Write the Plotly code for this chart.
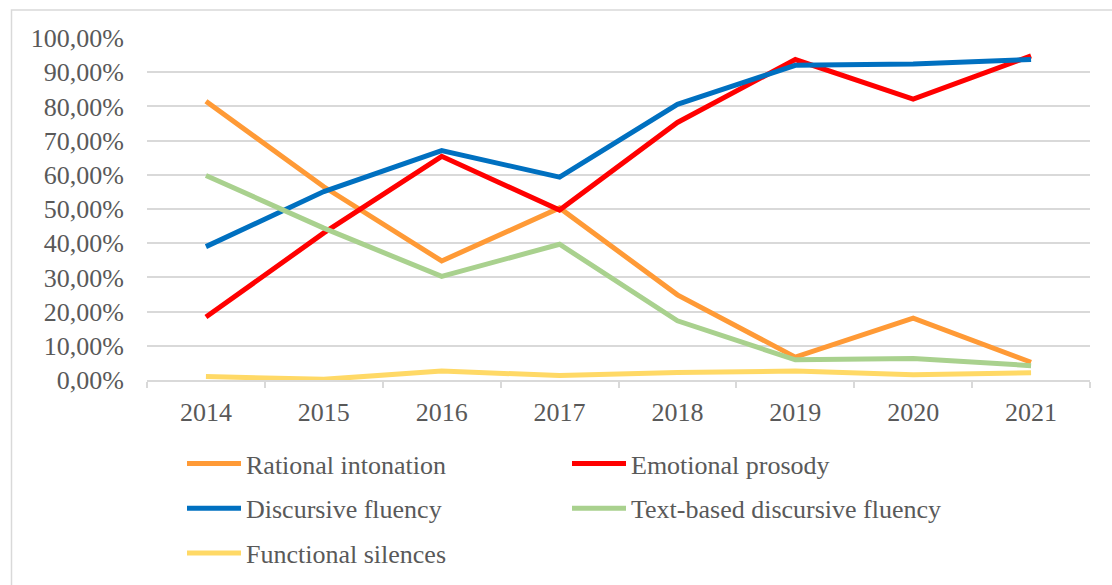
import plotly.graph_objects as go

years = ["2014", "2015", "2016", "2017", "2018", "2019", "2020", "2021"]

rational_intonation = [0.815, 0.565, 0.348, 0.503, 0.249, 0.067, 0.181, 0.052]
emotional_prosody = [0.184, 0.430, 0.654, 0.497, 0.753, 0.937, 0.821, 0.948]
discursive_fluency = [0.390, 0.551, 0.671, 0.593, 0.806, 0.920, 0.924, 0.937]
text_based_fluency = [0.598, 0.444, 0.303, 0.397, 0.173, 0.059, 0.063, 0.042]
functional_silences = [0.010, 0.002, 0.026, 0.013, 0.022, 0.026, 0.015, 0.021]

series = [
    ("Rational intonation", rational_intonation, "#FF9A36", "legend"),
    ("Emotional prosody", emotional_prosody, "#FF0000", "legend2"),
    ("Discursive fluency", discursive_fluency, "#0070C0", "legend"),
    ("Text-based discursive fluency", text_based_fluency, "#A9D18E", "legend2"),
    ("Functional silences", functional_silences, "#FFD966", "legend"),
]

FONT = "Liberation Serif, Times New Roman, serif"
GREY = "#595959"
GRID = "#D9D9D9"

fig = go.Figure()
for i, (name, vals, color, leg) in enumerate(series):
    fig.add_trace(go.Scatter(
        x=years, y=vals, name=name, mode="lines",
        line=dict(color=color, width=5),
        legend=leg, legendgroup=f"g{i}",
    ))

legend_common = dict(
    orientation="v",
    font=dict(family=FONT, size=26, color=GREY),
    bgcolor="rgba(0,0,0,0)",
    borderwidth=0,
    itemwidth=54,
    tracegroupgap=8,
    xref="container", yref="container",
    xanchor="left", yanchor="top",
)

fig.update_layout(
    width=1112, height=585,
    margin=dict(l=147, r=22, t=38, b=205, autoexpand=False),
    paper_bgcolor="white",
    plot_bgcolor="white",
    separators=",.",
    font=dict(family=FONT, color=GREY),
    showlegend=True,
    legend=dict(x=182 / 1112, y=1 - 440 / 585, **legend_common),
    legend2=dict(x=567 / 1112, y=1 - 440 / 585, **legend_common),
    xaxis=dict(
        type="category",
        range=[-0.5, 7.5],
        showgrid=False,
        showline=True, linecolor=GRID, linewidth=1.5,
        ticks="outside", tickson="boundaries", ticklen=6, tickcolor=GRID, tickwidth=1.5,
        tickfont=dict(family=FONT, size=26, color=GREY),
        tickangle=0,
        ticklabelstandoff=8,
    ),
    yaxis=dict(
        range=[0, 1],
        dtick=0.1,
        tickformat=".2%",
        showgrid=True, gridcolor=GRID, gridwidth=1.5,
        zeroline=False,
        showline=False,
        ticks="",
        tickfont=dict(family=FONT, size=26, color=GREY),
        ticklabelstandoff=22,
    ),
    shapes=[dict(
        type="rect", xref="paper", yref="paper",
        x0=(11.5 - 147) / 943, x1=1.2,
        y0=-1.0, y1=(380 - 10.5) / 341.5,
        line=dict(color=GRID, width=1.5),
        fillcolor="rgba(0,0,0,0)",
        layer="below",
    )],
)

fig.write_html("out.html")
